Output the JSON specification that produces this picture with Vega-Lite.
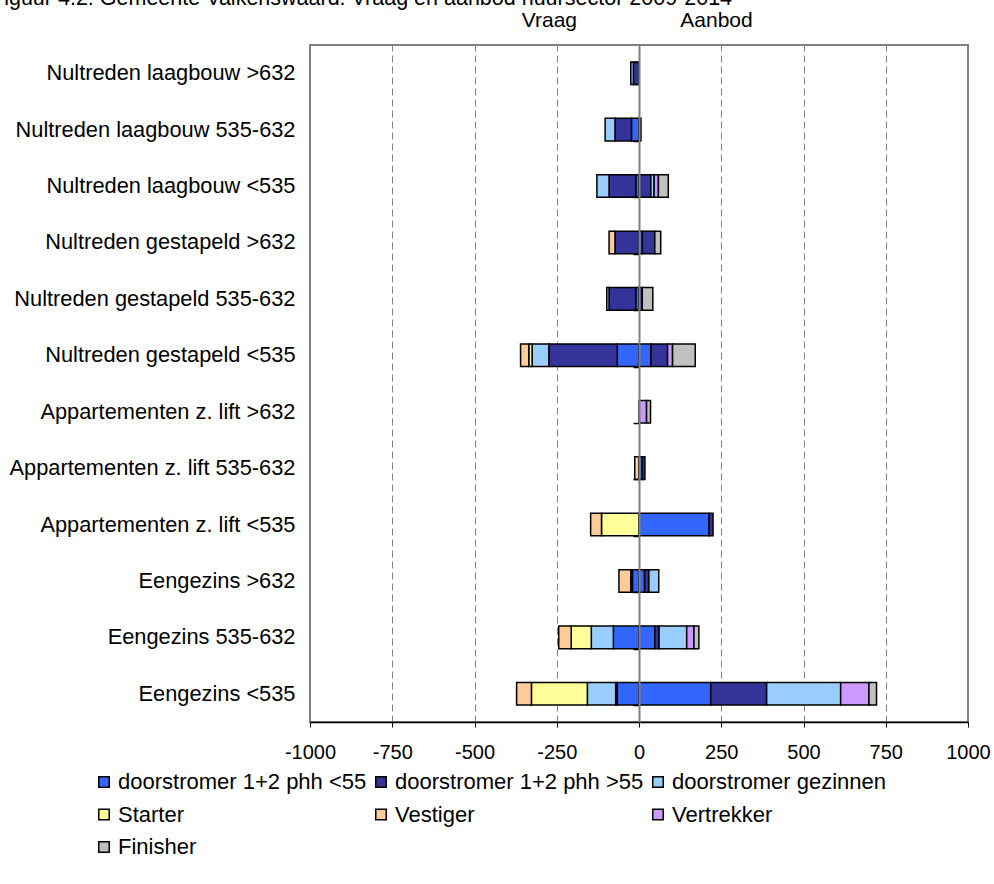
{
  "$schema": "https://vega.github.io/schema/vega-lite/v6.json",
  "autosize": "none",
  "width": 658,
  "height": 677,
  "padding": {"left": 310, "top": 45, "right": 26, "bottom": 162},
  "config": {
    "font": "Liberation Sans",
    "view": {"stroke": "#808080", "strokeWidth": 2}
  },
  "title": {
    "text": "Figuur 4.2: Gemeente Valkenswaard: Vraag en aanbod huursector 2009-2014",
    "anchor": "start",
    "frame": "bounds",
    "fontSize": 21.5,
    "fontWeight": "normal",
    "color": "black",
    "dx": -18,
    "offset": 0
  },
  "datasets": {
    "series": [
      {"s": "doorstromer 1+2 phh <55", "k": 1},
      {"s": "doorstromer 1+2 phh >55", "k": 2},
      {"s": "doorstromer gezinnen", "k": 3},
      {"s": "Starter", "k": 4},
      {"s": "Vestiger", "k": 5},
      {"s": "Vertrekker", "k": 6},
      {"s": "Finisher", "k": 7}
    ]
  },
  "data": {
    "values": [
      {"c": "Nultreden laagbouw >632", "s": "doorstromer 1+2 phh >55", "v": -17},
      {"c": "Nultreden laagbouw >632", "s": "doorstromer gezinnen", "v": -8},

      {"c": "Nultreden laagbouw 535-632", "s": "doorstromer 1+2 phh <55", "v": -23},
      {"c": "Nultreden laagbouw 535-632", "s": "doorstromer 1+2 phh >55", "v": -50},
      {"c": "Nultreden laagbouw 535-632", "s": "doorstromer gezinnen", "v": -30},
      {"c": "Nultreden laagbouw 535-632", "s": "doorstromer 1+2 phh >55", "v": 6},

      {"c": "Nultreden laagbouw <535", "s": "doorstromer 1+2 phh <55", "v": -10},
      {"c": "Nultreden laagbouw <535", "s": "doorstromer 1+2 phh >55", "v": -81},
      {"c": "Nultreden laagbouw <535", "s": "doorstromer gezinnen", "v": -37},
      {"c": "Nultreden laagbouw <535", "s": "doorstromer 1+2 phh >55", "v": 36},
      {"c": "Nultreden laagbouw <535", "s": "doorstromer gezinnen", "v": 10},
      {"c": "Nultreden laagbouw <535", "s": "Vertrekker", "v": 13},
      {"c": "Nultreden laagbouw <535", "s": "Finisher", "v": 30},

      {"c": "Nultreden gestapeld >632", "s": "doorstromer 1+2 phh >55", "v": -73},
      {"c": "Nultreden gestapeld >632", "s": "Vestiger", "v": -18},
      {"c": "Nultreden gestapeld >632", "s": "doorstromer 1+2 phh <55", "v": 10},
      {"c": "Nultreden gestapeld >632", "s": "doorstromer 1+2 phh >55", "v": 38},
      {"c": "Nultreden gestapeld >632", "s": "Finisher", "v": 18},

      {"c": "Nultreden gestapeld 535-632", "s": "doorstromer 1+2 phh <55", "v": -10},
      {"c": "Nultreden gestapeld 535-632", "s": "doorstromer 1+2 phh >55", "v": -81},
      {"c": "Nultreden gestapeld 535-632", "s": "doorstromer gezinnen", "v": -7},
      {"c": "Nultreden gestapeld 535-632", "s": "doorstromer 1+2 phh >55", "v": 10},
      {"c": "Nultreden gestapeld 535-632", "s": "Finisher", "v": 32},

      {"c": "Nultreden gestapeld <535", "s": "doorstromer 1+2 phh <55", "v": -66},
      {"c": "Nultreden gestapeld <535", "s": "doorstromer 1+2 phh >55", "v": -208},
      {"c": "Nultreden gestapeld <535", "s": "doorstromer gezinnen", "v": -51},
      {"c": "Nultreden gestapeld <535", "s": "Starter", "v": -10},
      {"c": "Nultreden gestapeld <535", "s": "Vestiger", "v": -25},
      {"c": "Nultreden gestapeld <535", "s": "doorstromer 1+2 phh <55", "v": 36},
      {"c": "Nultreden gestapeld <535", "s": "doorstromer 1+2 phh >55", "v": 51},
      {"c": "Nultreden gestapeld <535", "s": "Vertrekker", "v": 15},
      {"c": "Nultreden gestapeld <535", "s": "Finisher", "v": 69},

      {"c": "Appartementen z. lift >632", "s": "Vertrekker", "v": 23},
      {"c": "Appartementen z. lift >632", "s": "Finisher", "v": 12},

      {"c": "Appartementen z. lift 535-632", "s": "Vestiger", "v": -13},
      {"c": "Appartementen z. lift 535-632", "s": "doorstromer 1+2 phh <55", "v": 10},
      {"c": "Appartementen z. lift 535-632", "s": "doorstromer 1+2 phh >55", "v": 8},

      {"c": "Appartementen z. lift <535", "s": "Starter", "v": -114},
      {"c": "Appartementen z. lift <535", "s": "Vestiger", "v": -33},
      {"c": "Appartementen z. lift <535", "s": "doorstromer 1+2 phh <55", "v": 213},
      {"c": "Appartementen z. lift <535", "s": "doorstromer 1+2 phh >55", "v": 12},

      {"c": "Eengezins >632", "s": "doorstromer 1+2 phh <55", "v": -20},
      {"c": "Eengezins >632", "s": "doorstromer 1+2 phh >55", "v": -5},
      {"c": "Eengezins >632", "s": "Vestiger", "v": -36},
      {"c": "Eengezins >632", "s": "doorstromer 1+2 phh <55", "v": 17},
      {"c": "Eengezins >632", "s": "doorstromer 1+2 phh >55", "v": 13},
      {"c": "Eengezins >632", "s": "doorstromer gezinnen", "v": 30},

      {"c": "Eengezins 535-632", "s": "doorstromer 1+2 phh <55", "v": -78},
      {"c": "Eengezins 535-632", "s": "doorstromer gezinnen", "v": -67},
      {"c": "Eengezins 535-632", "s": "Starter", "v": -61},
      {"c": "Eengezins 535-632", "s": "Vestiger", "v": -38},
      {"c": "Eengezins 535-632", "s": "doorstromer 1+2 phh <55", "v": 48},
      {"c": "Eengezins 535-632", "s": "doorstromer 1+2 phh >55", "v": 13},
      {"c": "Eengezins 535-632", "s": "doorstromer gezinnen", "v": 84},
      {"c": "Eengezins 535-632", "s": "Vertrekker", "v": 22},
      {"c": "Eengezins 535-632", "s": "Finisher", "v": 15},

      {"c": "Eengezins <535", "s": "doorstromer 1+2 phh <55", "v": -66},
      {"c": "Eengezins <535", "s": "doorstromer 1+2 phh >55", "v": -5},
      {"c": "Eengezins <535", "s": "doorstromer gezinnen", "v": -86},
      {"c": "Eengezins <535", "s": "Starter", "v": -170},
      {"c": "Eengezins <535", "s": "Vestiger", "v": -45},
      {"c": "Eengezins <535", "s": "doorstromer 1+2 phh <55", "v": 218},
      {"c": "Eengezins <535", "s": "doorstromer 1+2 phh >55", "v": 170},
      {"c": "Eengezins <535", "s": "doorstromer gezinnen", "v": 225},
      {"c": "Eengezins <535", "s": "Vertrekker", "v": 86},
      {"c": "Eengezins <535", "s": "Finisher", "v": 23}
    ]
  },
  "transform": [
    {"lookup": "s", "from": {"data": {"name": "series"}, "key": "s", "fields": ["k"]}}
  ],
  "layer": [
    {
      "mark": {"type": "bar", "stroke": "black", "strokeWidth": 1.5},
      "encoding": {
        "x": {
          "field": "v",
          "type": "quantitative",
          "stack": "zero",
          "scale": {"domain": [-1000, 1000], "nice": false},
          "axis": {
            "orient": "bottom",
            "title": null,
            "values": [-1000, -750, -500, -250, 0, 250, 500, 750, 1000],
            "labelExpr": "'' + datum.value",
            "labelFlush": false,
            "grid": true,
            "gridColor": "#808080",
            "gridDash": [7, 4],
            "gridWidth": 1,
            "domainColor": "black",
            "domainWidth": 1.5,
            "tickColor": "black",
            "tickSize": 5,
            "tickWidth": 1,
            "labelFontSize": 20,
            "labelColor": "black",
            "labelPadding": 15
          }
        },
        "y": {
          "field": "c",
          "type": "nominal",
          "sort": ["Nultreden laagbouw >632", "Nultreden laagbouw 535-632", "Nultreden laagbouw <535", "Nultreden gestapeld >632", "Nultreden gestapeld 535-632", "Nultreden gestapeld <535", "Appartementen z. lift >632", "Appartementen z. lift 535-632", "Appartementen z. lift <535", "Eengezins >632", "Eengezins 535-632", "Eengezins <535"],
          "scale": {"paddingInner": 0.6, "paddingOuter": 0.3},
          "axis": {
            "orient": "left",
            "title": null,
            "ticks": false,
            "domain": false,
            "grid": false,
            "labelFontSize": 21.8,
            "labelColor": "black",
            "labelPadding": 15,
            "labelLimit": 400
          }
        },
        "order": {"field": "k", "type": "quantitative"},
        "color": {
          "field": "s",
          "type": "nominal",
          "sort": ["doorstromer 1+2 phh <55", "doorstromer 1+2 phh >55", "doorstromer gezinnen", "Starter", "Vestiger", "Vertrekker", "Finisher"],
          "scale": {
            "domain": ["doorstromer 1+2 phh <55", "doorstromer 1+2 phh >55", "doorstromer gezinnen", "Starter", "Vestiger", "Vertrekker", "Finisher"],
            "range": ["#3366FF", "#333399", "#99CCFF", "#FFFF99", "#FFCC99", "#CC99FF", "#C0C0C0"]
          },
          "legend": {
            "title": null,
            "orient": "none",
            "legendX": -217,
            "legendY": 726,
            "direction": "horizontal",
            "columns": 3,
            "columnPadding": 3,
            "rowPadding": 10.5,
            "symbolType": "square",
            "symbolSize": 110,
            "symbolStrokeColor": "black",
            "symbolStrokeWidth": 1.5,
            "labelFontSize": 22,
            "labelColor": "black",
            "labelOffset": 3,
            "labelLimit": 400
          }
        }
      }
    },
    {
      "mark": {"type": "point", "opacity": 0},
      "encoding": {
        "x": {
          "field": "v",
          "type": "quantitative",
          "axis": {
            "orient": "top",
            "title": null,
            "values": [-274, 234],
            "labelExpr": "datum.value < 0 ? 'Vraag' : 'Aanbod'",
            "labelFlush": false,
            "ticks": false,
            "domain": false,
            "grid": false,
            "labelFontSize": 21,
            "labelColor": "black",
            "labelPadding": 15
          }
        },
        "y": {
          "field": "c",
          "type": "nominal",
          "sort": ["Nultreden laagbouw >632", "Nultreden laagbouw 535-632", "Nultreden laagbouw <535", "Nultreden gestapeld >632", "Nultreden gestapeld 535-632", "Nultreden gestapeld <535", "Appartementen z. lift >632", "Appartementen z. lift 535-632", "Appartementen z. lift <535", "Eengezins >632", "Eengezins 535-632", "Eengezins <535"],
          "axis": {
            "orient": "left",
            "offset": -329,
            "title": null,
            "labels": false,
            "grid": false,
            "domain": true,
            "domainColor": "#808080",
            "domainWidth": 2,
            "ticks": true,
            "tickBand": "extent",
            "tickSize": 6,
            "tickColor": "black",
            "tickWidth": 1.5,
            "zindex": 1
          }
        }
      }
    }
  ],
  "resolve": {"axis": {"x": "independent", "y": "independent"}}
}
